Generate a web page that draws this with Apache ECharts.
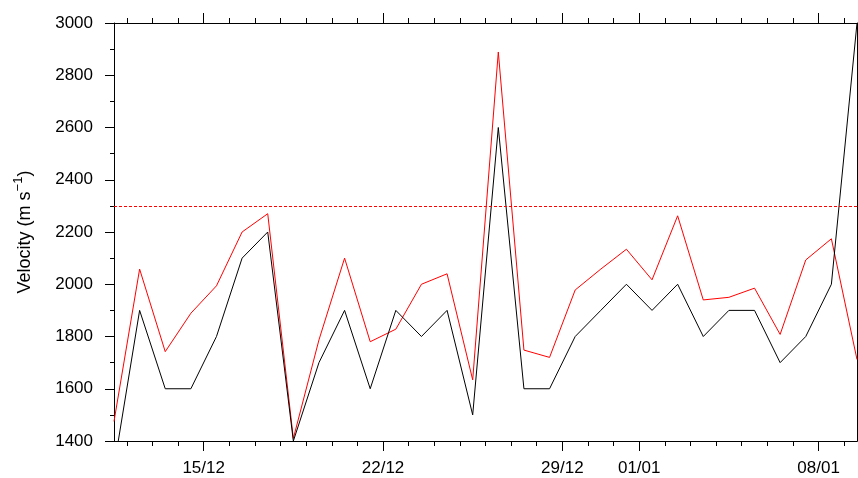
<!DOCTYPE html>
<html><head><meta charset="utf-8">
<script src="https://cdn.jsdelivr.net/npm/echarts@6/dist/echarts.min.js"></script>
<style>html,body{margin:0;padding:0;background:#fff}#c{width:858px;height:478px}</style>
</head><body><div id="c"></div>
<script>
// ---- data ----
const dates = ['11/12','12/12','13/12','14/12','15/12','16/12','17/12','18/12','19/12','20/12',
  '21/12','22/12','23/12','24/12','25/12','26/12','27/12','28/12','29/12','30/12',
  '31/12','01/01','02/01','03/01','04/01','05/01','06/01','07/01','08/01','09/01'];
const blackValues = [1300,1900,1600,1600,1800,2100,2200,1400,1700,1900,
  1600,1900,1800,1900,1500,2600,1600,1600,1800,1900,
  2000,1900,2000,1800,1900,1900,1700,1800,2000,3000];
const redValues = [1475,2058,1742,1889,1994,2200,2270,1410,1787,2100,
  1780,1828,2000,2040,1634,2889,1748,1720,1978,2058,
  2134,2017,2262,1940,1950,1985,1808,2093,2174,1712];
const tickLabels = ['15/12','22/12','29/12','01/01','08/01'];
const thresholdValue = 2300;
const yMin = 1400, yMax = 3000, yStep = 200;
const yNameMain = 'Velocity (m s', yNameSup = '\u22121', yNameEnd = ')';

// ---- build ----
const halfDays = [];
dates.forEach((d, i) => {
  halfDays.push(d + ' 12:00');
  if (i < dates.length - 1) halfDays.push(dates[i + 1] + ' 00:00');
});
const isMidnight = (i, v) => v.endsWith('00:00');
const isMajor = (i, v) => v.endsWith('00:00') && tickLabels.includes(v.split(' ')[0]);

const FONT = 'Liberation Sans, Arial, sans-serif';
const FS = 17;
const black = '#000';

function catAxis(pos, tickLen, intervalFn, showLabel) {
  return {
    type: 'category', data: halfDays, boundaryGap: false, position: pos,
    axisLine: { show: true, lineStyle: { color: black, width: 1 } },
    axisTick: { show: true, length: tickLen, interval: intervalFn, lineStyle: { color: black, width: 1 } },
    axisLabel: { show: showLabel, interval: isMajor, formatter: v => v.split(' ')[0],
      color: black, fontSize: FS, fontFamily: FONT, margin: 19 },
    splitLine: { show: false }
  };
}

const toPairs = arr => arr.map((v, i) => [i, v]);

const option = {
  animation: false,
  backgroundColor: '#fff',
  grid: { left: 114, right: 1, top: 23, bottom: 37, containLabel: false },
  xAxis: [
    { type: 'value', min: 0, max: dates.length - 1, show: false },
    catAxis('bottom', 5, isMidnight, false),
    catAxis('bottom', 10, isMajor, true),
    catAxis('top', 5, isMidnight, false),
    catAxis('top', 10, isMajor, false)
  ],
  yAxis: [
    {
      type: 'value', min: yMin, max: yMax, interval: yStep, position: 'left',
      name: '{a|' + yNameMain + '}{s|' + yNameSup + '}{a|' + yNameEnd + '}',
      nameLocation: 'middle', nameGap: 80,
      nameTextStyle: {
        color: black, fontSize: 18, fontFamily: FONT,
        rich: {
          a: { fontSize: 18, fontFamily: FONT, color: black, lineHeight: 22, verticalAlign: 'bottom' },
          s: { fontSize: 13, fontFamily: FONT, color: black, lineHeight: 14, verticalAlign: 'top' }
        }
      },
      axisLine: { show: true, lineStyle: { color: black, width: 1 } },
      axisTick: { show: true, length: 9, lineStyle: { color: black } },
      minorTick: { show: true, splitNumber: 2, length: 4, lineStyle: { color: black } },
      axisLabel: { color: black, fontSize: FS, fontFamily: FONT, margin: 21, formatter: v => String(v) },
      splitLine: { show: false }
    },
    {
      type: 'value', min: yMin, max: yMax, interval: yStep, position: 'right',
      axisLine: { show: true, lineStyle: { color: black, width: 1 } },
      axisTick: { show: false }, axisLabel: { show: false }, splitLine: { show: false }
    }
  ],
  series: [
    {
      type: 'line', xAxisIndex: 0, yAxisIndex: 0, data: toPairs(redValues),
      showSymbol: false, symbol: 'none', lineStyle: { color: '#ff0000', width: 1 },
      clip: true,
      markLine: {
        silent: true, symbol: 'none', label: { show: false },
        lineStyle: { color: '#ff0000', type: [3, 2], width: 1 },
        data: [{ yAxis: thresholdValue }]
      }
    },
    {
      type: 'line', xAxisIndex: 0, yAxisIndex: 0, data: toPairs(blackValues),
      showSymbol: false, symbol: 'none', lineStyle: { color: '#000000', width: 1 },
      clip: true
    }
  ]
};
echarts.init(document.getElementById('c')).setOption(option);
</script></body></html>
